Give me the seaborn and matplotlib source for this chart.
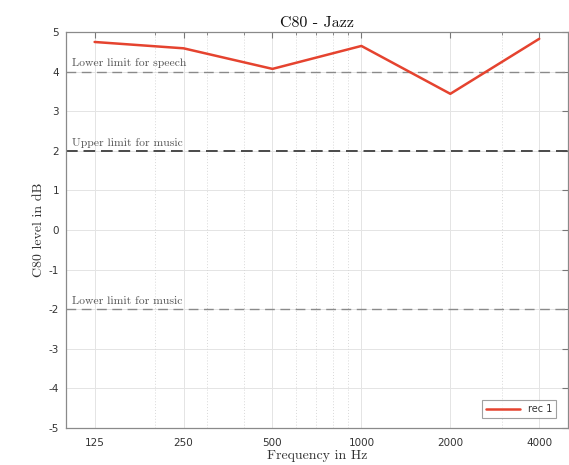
import matplotlib
matplotlib.use("Agg")
import matplotlib.pyplot as plt
import matplotlib.ticker as mticker
import seaborn as sns
import pandas as pd

freqs = [125, 250, 500, 1000, 2000, 4000]
c80 = [4.75, 4.59, 4.07, 4.65, 3.44, 4.83]
tick_labels = ["125", "250", "500", "1000", "2000", "4000"]
limit_values = [4, 2, -2]
limit_labels = ["Lower limit for speech", "Upper limit for music", "Lower limit for music"]
series_name = "rec 1"

sns.set_theme(style="white")
plt.rcParams['font.family'] = ['DejaVu Sans']

df = pd.DataFrame({"Frequency": freqs, "C80": c80, "rec": series_name})

fig = plt.figure(figsize=(5.69, 4.65), dpi=100)
ax = fig.add_axes([0.116, 0.080, 0.882, 0.851])

# grids
for y in range(-5, 6):
    ax.axhline(y, color="#e4e4e4", lw=0.7, zorder=0)
for f in freqs:
    ax.axvline(f, color="#e4e4e4", lw=0.7, zorder=0)
minor = [200, 300, 400, 600, 700, 800, 900, 3000]
for f in minor:
    ax.axvline(f, color="#d8d8d8", lw=0.7, ls=(0, (1, 2)), zorder=0)

# limit lines
styles = [dict(color="#8a8a8a", lw=1.0, dashes=(7, 4)),
          dict(color="#4a4a4a", lw=1.4, dashes=(6, 3)),
          dict(color="#8a8a8a", lw=1.0, dashes=(7, 4))]
for v, lab, st in zip(limit_values, limit_labels, styles):
    ax.axhline(v, color=st["color"], lw=st["lw"], linestyle=(0, st["dashes"]), zorder=1)
    ax.text(0.012, v + 0.08, lab, transform=ax.get_yaxis_transform(),
            family="cmr10", fontsize=8.4, color="#555555", va="bottom", ha="left")

sns.lineplot(data=df, x="Frequency", y="C80", hue="rec", palette=["#e5432f"],
             lw=1.8, ax=ax, zorder=3)

ax.set_xscale("log")
ax.set_xlim(100, 5000)
ax.set_ylim(-5, 5)
ax.xaxis.set_major_locator(mticker.FixedLocator(freqs))
ax.xaxis.set_major_formatter(mticker.FixedFormatter(tick_labels))
ax.xaxis.set_minor_locator(mticker.FixedLocator([200, 300, 400, 600, 700, 800, 900, 3000, 5000]))
ax.xaxis.set_minor_formatter(mticker.NullFormatter())
ax.set_yticks(range(-5, 6))
ax.set_yticklabels([str(v) for v in range(-5, 6)])

ax.tick_params(axis="both", which="both", direction="in", top=True, right=True,
               colors="#777777", labelcolor="#333333", labelsize=7.5)
ax.tick_params(which="major", length=4, width=0.8)
ax.tick_params(axis="x", which="major", pad=7)
ax.tick_params(axis="y", which="major", pad=5)
ax.tick_params(which="minor", length=2.5, width=0.6)
for s in ax.spines.values():
    s.set_color("#8a8a8a")
    s.set_linewidth(0.9)

ax.set_title("C80 - Jazz", family="cmr10", fontsize=11.5, color="#111111", pad=4)
ax.set_xlabel("Frequency in Hz", family="cmr10", fontsize=10, color="#333333", labelpad=2)
ax.set_ylabel("C80 level in dB", family="cmr10", fontsize=10, color="#333333", labelpad=3)

leg = ax.legend(loc="lower right", fontsize=7, frameon=True, fancybox=False,
                handlelength=3.5, borderaxespad=0, bbox_to_anchor=(0.976, 0.025))
leg.get_frame().set_edgecolor("#888888")
leg.get_frame().set_linewidth(0.8)
for t in leg.get_texts():
    t.set_color("#333333")

fig.savefig("out.png", dpi=100)
